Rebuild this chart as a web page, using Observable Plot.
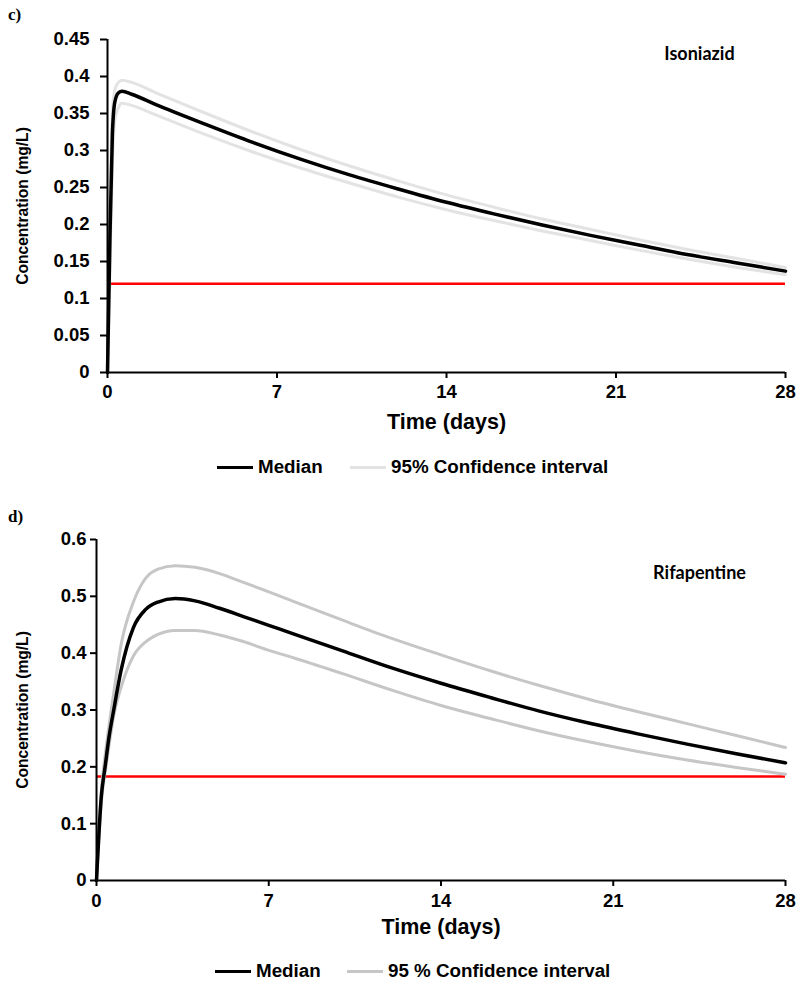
<!DOCTYPE html>
<html><head><meta charset="utf-8">
<script src="https://cdn.jsdelivr.net/npm/d3@7"></script>
<script src="https://cdn.jsdelivr.net/npm/@observablehq/plot@0.6"></script>
<style>
body{margin:0;background:#fff;width:800px;height:989px;position:relative;overflow:hidden;font-family:"Liberation Sans",Arial,sans-serif;color:#000;}
.panel{position:absolute;left:0;z-index:1;}
.panel svg g[aria-label$="tick label"]{font-size:18.5px;font-weight:bold;}
.tag{position:absolute;left:8px;font-family:"Liberation Serif",serif;font-weight:bold;font-size:17px;z-index:3;}
.li{position:absolute;font-weight:bold;font-size:18.8px;display:flex;align-items:center;white-space:nowrap;z-index:3;}
.sw{display:inline-block;width:36px;height:3px;margin-right:5px;}
</style></head><body>
<div class="tag" style="top:5px">c)</div>
<div id="top" class="panel" style="top:0"></div>
<div class="li" style="top:456px;left:217px"><span class="sw" style="background:#000"></span>Median</div>
<div class="li" style="top:456px;left:350px"><span class="sw" style="background:#e3e3e3"></span>95% Confidence interval</div>
<div class="tag" style="top:507px">d)</div>
<div id="bottom" class="panel" style="top:500px"></div>
<div class="li" style="top:960px;left:215px"><span class="sw" style="background:#000"></span>Median</div>
<div class="li" style="top:960px;left:347px"><span class="sw" style="background:#c6c6c6"></span>95 % Confidence interval</div>
<script>
// ---- Data ----
const xTicks = [0, 7, 14, 21, 28];

// Isoniazid (panel c)
const isoTime   = [0, 0.1, 0.2, 0.3, 0.45, 0.6, 1, 2, 4, 6, 8, 10, 12, 14, 16, 18, 20, 22, 24, 26, 28];
const isoMedian = [0, 0.18, 0.32, 0.365, 0.378, 0.380, 0.376, 0.362, 0.336, 0.311, 0.288, 0.267, 0.248, 0.230, 0.214, 0.199, 0.185, 0.172, 0.159, 0.148, 0.137];
const isoUpper  = [0, 0.22, 0.35, 0.382, 0.392, 0.395, 0.392, 0.378, 0.351, 0.325, 0.301, 0.279, 0.259, 0.240, 0.223, 0.207, 0.193, 0.179, 0.166, 0.154, 0.142];
const isoLower  = [0, 0.14, 0.28, 0.340, 0.358, 0.364, 0.361, 0.348, 0.322, 0.298, 0.276, 0.256, 0.237, 0.220, 0.205, 0.191, 0.178, 0.165, 0.153, 0.142, 0.132];
const isoThreshold = 0.12;
const isoYTicks = [0, 0.05, 0.1, 0.15, 0.2, 0.25, 0.3, 0.35, 0.4, 0.45];

// Rifapentine (panel d)
const rifTime   = [0, 0.2, 0.35, 0.5, 0.7, 1, 1.5, 2, 2.5, 3.2, 4, 5, 6, 7, 8, 10, 12, 14, 16, 18, 20, 22, 24, 26, 28];
const rifMedian = [0, 0.15, 0.20, 0.25, 0.30, 0.37, 0.445, 0.477, 0.490, 0.496, 0.492, 0.479, 0.464, 0.449, 0.434, 0.404, 0.374, 0.347, 0.322, 0.298, 0.277, 0.258, 0.240, 0.223, 0.207];
const rifUpper  = [0, 0.16, 0.22, 0.27, 0.33, 0.415, 0.49, 0.532, 0.548, 0.554, 0.551, 0.540, 0.524, 0.508, 0.491, 0.458, 0.426, 0.397, 0.369, 0.343, 0.319, 0.297, 0.276, 0.255, 0.234];
const rifLower  = [0, 0.14, 0.19, 0.235, 0.29, 0.34, 0.395, 0.420, 0.433, 0.440, 0.440, 0.432, 0.420, 0.405, 0.392, 0.364, 0.335, 0.308, 0.285, 0.263, 0.244, 0.227, 0.212, 0.199, 0.187];
const rifThreshold = 0.183;
const rifYTicks = [0, 0.1, 0.2, 0.3, 0.4, 0.5, 0.6];

const yTitle = "Concentration (mg/L)";
const xTitle = "Time (days)";

function panel(o) {
  const rows = (vals) => o.times.map((t, i) => ({t, v: vals[i]}));
  return Plot.plot({
    width: 800, height: o.height,
    marginLeft: o.ml, marginRight: 15, marginTop: o.mt, marginBottom: o.mb,
    style: {fontFamily: "Liberation Sans, Arial, sans-serif", fontWeight: "bold", fontSize: "18px", color: "#000", background: "transparent", overflow: "visible"},
    x: {domain: [0, 28]},
    y: {domain: [0, o.yMax]},
    marks: [
      Plot.ruleY([o.threshold], {stroke: "#ff0000", strokeWidth: 2.5}),
      Plot.line(rows(o.upper), {x: "t", y: "v", stroke: o.ciColor, strokeWidth: 3, curve: "monotone-x"}),
      Plot.line(rows(o.lower), {x: "t", y: "v", stroke: o.ciColor, strokeWidth: 3, curve: "monotone-x"}),
      Plot.line(rows(o.median), {x: "t", y: "v", stroke: "#000", strokeWidth: 3.5, curve: "monotone-x"}),
      Plot.ruleX([0], {stroke: "#000", strokeWidth: 2}),
      Plot.ruleY([0], {stroke: "#000", strokeWidth: 2}),
      Plot.axisY({ticks: o.yTicks, tickFormat: d => String(d), tickSize: o.tsY, tickPadding: o.tpY, strokeWidth: 2, label: null, fontSize: 18.5, fontWeight: "bold"}),
      Plot.axisX({ticks: xTicks, tickFormat: d => String(d), tickSize: 6, tickPadding: o.tpX, strokeWidth: 2, label: null, fontSize: 18.5, fontWeight: "bold"}),
      Plot.text([yTitle], {frameAnchor: "left", dx: o.ytDx, rotate: -90, textAnchor: "middle", lineAnchor: "middle", fontSize: 15.6, fontWeight: "bold"}),
      Plot.text([xTitle], {frameAnchor: "bottom", dy: o.xtDy, textAnchor: "middle", lineAnchor: "middle", fontSize: 21.5, fontWeight: "bold"}),
      Plot.text([o.name], {frameAnchor: "top-right", dx: -86, dy: o.nameDy, textAnchor: "middle", lineAnchor: "top", fontFamily: "Lato, Open Sans, sans-serif", fontSize: 18, fontWeight: "bold"})
    ]
  });
}

document.getElementById("top").appendChild(panel({
  times: isoTime, median: isoMedian, upper: isoUpper, lower: isoLower,
  threshold: isoThreshold, yMax: 0.45, yTicks: isoYTicks, ciColor: "#e3e3e3", name: "Isoniazid",
  height: 440, ml: 107, mt: 39, mb: 68, tsY: 7, tpY: 11, tpX: 6, ytDx: -85, xtDy: 50, nameDy: 8
}));
document.getElementById("bottom").appendChild(panel({
  times: rifTime, median: rifMedian, upper: rifUpper, lower: rifLower,
  threshold: rifThreshold, yMax: 0.6, yTicks: rifYTicks, ciColor: "#c6c6c6", name: "Rifapentine",
  height: 445, ml: 96, mt: 39, mb: 65, tsY: 6, tpY: 4, tpX: 7, ytDx: -74, xtDy: 47, nameDy: 27
}));
</script>
</body></html>
